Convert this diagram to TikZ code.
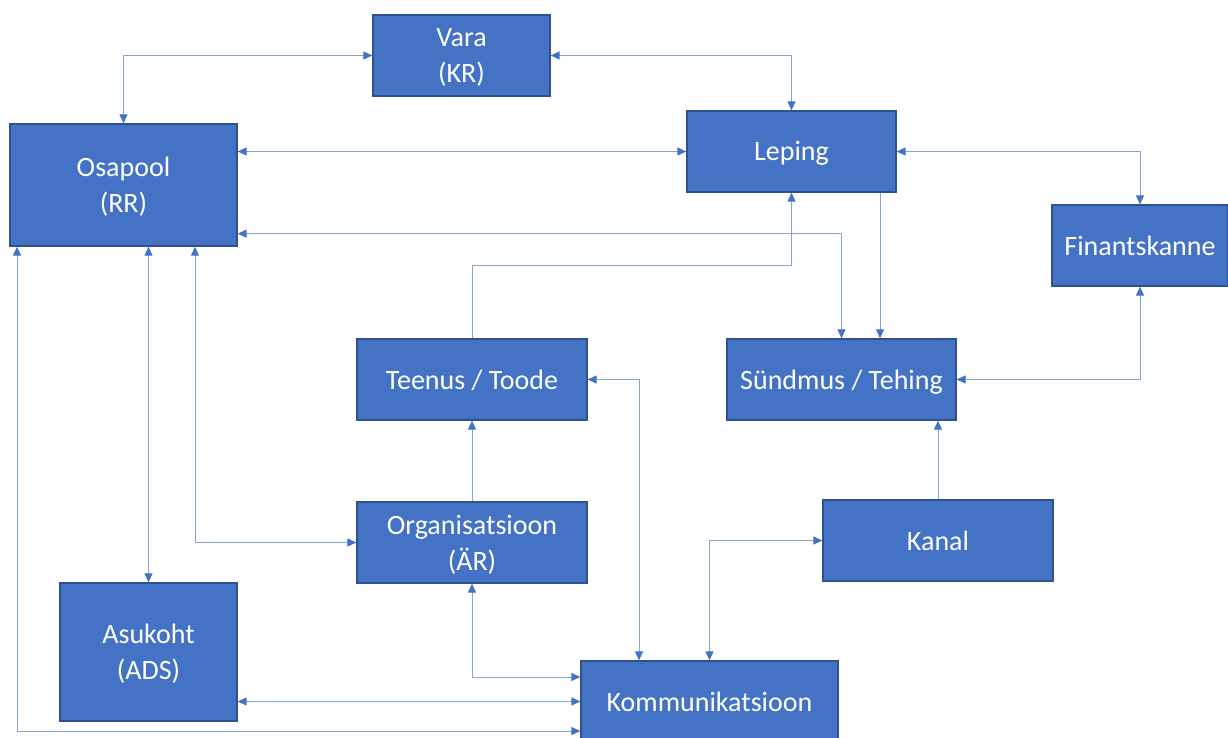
\documentclass[tikz,border=0pt]{standalone}
\usepackage{fontspec}
\setmainfont{Carlito}
\usetikzlibrary{arrows.meta}
\definecolor{accent}{HTML}{4472C4}
\definecolor{boxborder}{HTML}{2F528F}
\definecolor{linecol}{HTML}{86A3DB}
\tikzset{
  box/.style={rectangle, draw=boxborder, line width=1.3pt, fill=accent, text=white,
    inner sep=0pt, align=center, font=\fontsize{28pt}{36pt}\selectfont,
    text height=19pt, text depth=0pt},
  twoline/.style={text height=55pt, text depth=0pt},
  conn/.style={draw=linecol, line width=1pt},
  >={Triangle[length=9pt,width=8pt,color=accent]}
}
\begin{document}
\begin{tikzpicture}[x=1pt,y=-1pt]
\useasboundingbox (0,0) rectangle (1228,738);
\fill[white] (0,0) rectangle (1228,738);

\node[box, twoline, minimum width=177pt, minimum height=81pt] (vara) at (461.5,55.5) {Vara\\(KR)};
\node[box, twoline, minimum width=227pt, minimum height=122pt] (osapool) at (123.5,185) {Osapool\\(RR)};
\node[box, minimum width=209pt, minimum height=81pt] (leping) at (791.5,151.5) {Leping};
\node[box, minimum width=176pt, minimum height=81pt] (fin) at (1140,245.5) {Finantskanne};
\node[box, minimum width=230pt, minimum height=81pt] (teenus) at (472,379.5) {Teenus / Toode};
\node[box, minimum width=229pt, minimum height=81pt] (sundmus) at (841.5,379.5) {Sündmus / Tehing};
\node[box, twoline, minimum width=230pt, minimum height=81pt] (org) at (472,542.5) {Organisatsioon\\(ÄR)};
\node[box, minimum width=230pt, minimum height=81pt] (kanal) at (938,540.5) {Kanal};
\node[box, twoline, minimum width=177pt, minimum height=138pt] (asukoht) at (148.5,652) {Asukoht\\(ADS)};
\node[box, minimum width=257pt, minimum height=81pt] (komm) at (709.5,701.5) {Kommunikatsioon};

\coordinate (lp) at ([xshift=88.5pt]leping.south);

% connectors
\draw[conn,<->] (vara.west) -| (osapool.north);
\draw[conn,<->] (vara.east) -| (leping.north);
\draw[conn,<->] (osapool.east |- leping.west) -- (leping.west);
\draw[conn,<->] (leping.east) -| (fin.north);
\draw[conn,<->] ([yshift=13pt]osapool.south east) -| (sundmus.north);
\draw[conn,->] (lp) -- (lp |- sundmus.north);
\draw[conn,->] (teenus.north) -- ++(0,-73) -| (leping.south);
\draw[conn,<->] (teenus.east) -| ([xshift=-70.5pt]komm.north);
\draw[conn,<->] (fin.south) |- (sundmus.east);
\draw[conn,->] (org.north) -- (teenus.south);
\draw[conn,<->] (osapool.south -| asukoht.north) -- (asukoht.north);
\draw[conn,<->] ([xshift=71.5pt]osapool.south) |- (org.west);
\draw[conn,->] (kanal.north) -- (kanal.north |- sundmus.south);
\draw[conn,<->] (kanal.west) -| (komm.north);
\draw[conn,<->] (org.south) |- ([yshift=24.5pt]komm.west);
\draw[conn,<->] (asukoht.east |- komm.west) -- (komm.west);
\draw[conn,<->] ([xshift=-106.5pt]osapool.south) |- ([yshift=-29.5pt]komm.west);
\end{tikzpicture}
\end{document}
